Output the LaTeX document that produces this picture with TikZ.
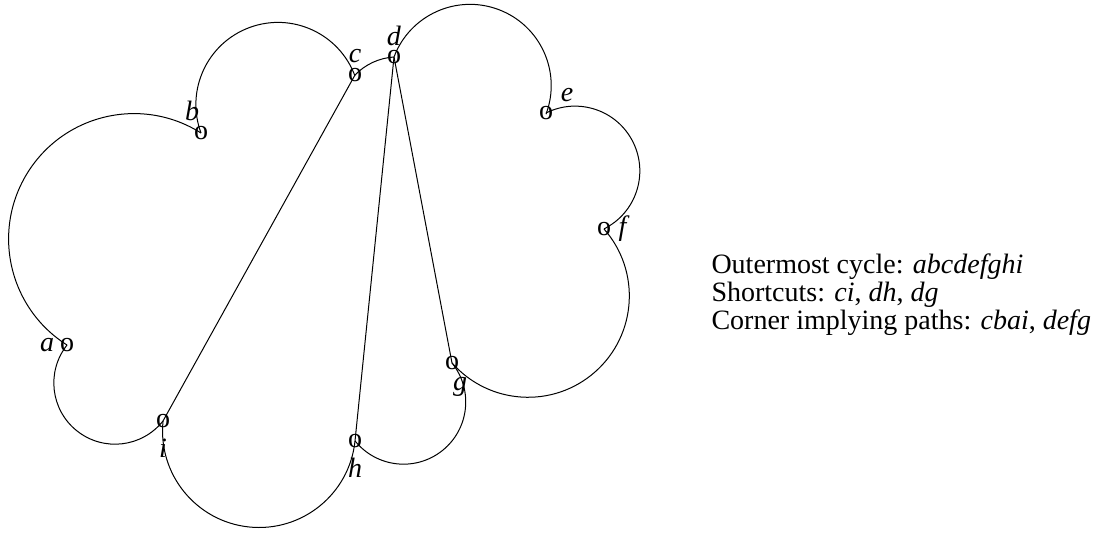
\documentclass[tikz,border=0pt]{standalone}
\usepackage{fontspec}
\setmainfont{Liberation Serif}
\usetikzlibrary{positioning}

\begin{document}
\begin{tikzpicture}[x=0.5pt, y=-0.5pt, on grid, line width=0.5pt, font=\fontsize{14}{14}\selectfont, vtx/.style={inner sep=0pt}, lbl/.style={inner sep=0pt}, txt/.style={inner sep=0pt, anchor=base west}]
	\useasboundingbox (0,0) rectangle (1106,533);
	\node[vtx] (a) at (67,345) {o};
	\node[vtx] (b) at (201,133) {o};
	\node[vtx] (c) at (355,75) {o};
	\node[vtx] (d) at (394,57) {o};
	\node[vtx] (e) at (546,113) {o};
	\node[vtx] (f) at (604,229) {o};
	\node[vtx] (g) at (452,363) {o};
	\node[vtx] (h) at (355,441) {o};
	\node[vtx] (i) at (163,421) {o};
	\node[lbl] (la) [left=10pt of a] {\textit{a}};
	\node[lbl] (lb) [above left=11pt and 4.5pt of b] {\textit{b}};
	\node[lbl] (lc) [above=9.5pt of c] {\textit{c}};
	\node[lbl] (ld) [above=10.5pt of d] {\textit{d}};
	\node[lbl] (le) [above right=9pt and 10.5pt of e] {\textit{e}};
	\node[lbl] (lf) [right=10pt of f] {\textit{f}};
	\node[lbl] (lg) [below right=12pt and 4pt of g] {\textit{g}};
	\node[lbl] (lh) [below=13.5pt of h] {\textit{h}};
	\node[lbl] (li) [below=13.5pt of i] {\textit{i}};
	% outer cycle
	\draw (a.center) arc[start angle=122.3, delta angle=180, radius=125.4];
	\draw (b.center) arc[start angle=159.7, delta angle=180, radius=82.1];
	\draw (c.center) arc[start angle=224.1, end angle=266.3, radius=59.6];
	\draw (d.center) arc[start angle=200.6, delta angle=180, radius=81.2];
	\draw (e.center) arc[start angle=243.4, delta angle=180, radius=64.8];
	\draw (f.center) arc[start angle=-41.4, delta angle=180, radius=101.3];
	\draw (g.center) arc[start angle=-38.8, delta angle=180, radius=62.2];
	\draw (h.center) arc[start angle=5.95, delta angle=180, radius=96.5];
	\draw (i.center) arc[start angle=38.4, delta angle=180, radius=61.2];
	% shortcuts
	\draw (c.center) -- (i.center);
	\draw (d.center) -- (h.center);
	\draw (d.center) -- (g.center);
	\node[txt] (t1) at (711,274) {Outermost cycle: \textit{abcdefghi}};
	\node[txt] (t2) at (711,302) {Shortcuts: \textit{ci}, \textit{dh}, \textit{dg}};
	\node[txt] (t3) at (711,330) {Corner implying paths: \textit{cbai}, \textit{defg}};
\end{tikzpicture}
\end{document}
